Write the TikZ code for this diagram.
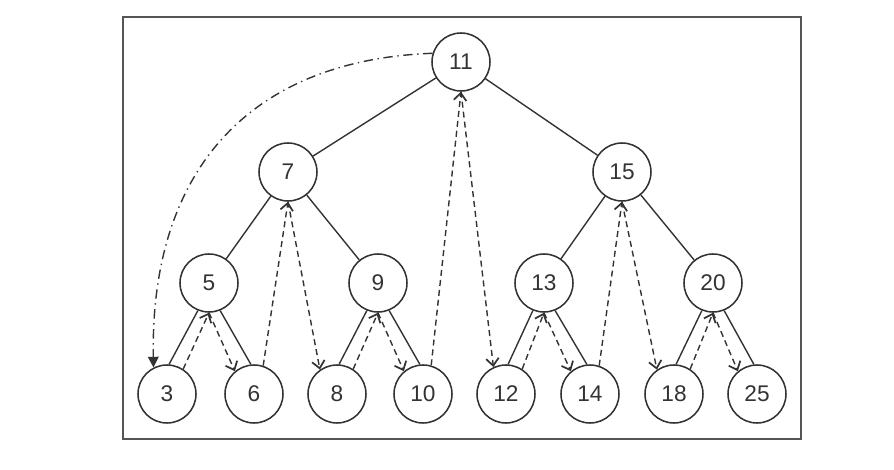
\documentclass[tikz,border=0pt]{standalone}
\usepackage{fontspec}
\setmainfont{Liberation Sans}
\usetikzlibrary{arrows.meta}
\definecolor{ink}{HTML}{333333}
\definecolor{framec}{HTML}{555555}
\begin{document}
\begin{tikzpicture}[x=0.75pt,y=-0.75pt,
  vnode/.style={circle,draw=ink,line width=1.15pt,minimum size=43.5pt,inner sep=0pt,font=\fontsize{17}{19}\selectfont,text=ink},
  edge/.style={draw=ink,line width=1.05pt},
  walk/.style={draw=ink,line width=1.05pt,dash pattern=on 4.5pt off 3pt,-{Straight Barb[length=5.5pt,width=9.5pt,line width=1.3pt]}},
  jump/.style={draw=ink,line width=1.05pt,dash pattern=on 7pt off 3.5pt on 1pt off 3.5pt,-{Triangle[length=8pt,width=8pt]}}]
\useasboundingbox (0,0) rectangle (894,470);
\draw[framec,line width=1.1pt] (123,17) rectangle (801,439);
\node[vnode] (n11) at (461,62) {11};
\node[vnode] (n7) at (288,172) {7};
\node[vnode] (n15) at (622,172) {15};
\node[vnode] (n5) at (209,283) {5};
\node[vnode] (n9) at (378,283) {9};
\node[vnode] (n13) at (544,283) {13};
\node[vnode] (n20) at (713,283) {20};
\node[vnode] (n3) at (167,394) {3};
\node[vnode] (n6) at (254,394) {6};
\node[vnode] (n8) at (337,394) {8};
\node[vnode] (n10) at (423,394) {10};
\node[vnode] (n12) at (506,394) {12};
\node[vnode] (n14) at (590,394) {14};
\node[vnode] (n18) at (674,394) {18};
\node[vnode] (n25) at (757,394) {25};
\foreach \a/\b in {n11/n7,n11/n15,n7/n5,n7/n9,n15/n13,n15/n20}
  \draw[edge] (\a) -- (\b);
\foreach \p/\l/\r in {n5/n3/n6,n9/n8/n10,n13/n12/n14,n20/n18/n25}{
  \draw[edge] (\p.248) -- (\l.86);
  \draw[edge] (\p.292) -- (\r.96);
  \draw[walk] (\l.57) -- (\p.south);
  \draw[walk] (\p.south) -- (\r.130);
}
\draw[walk] (n6.72) -- (n7.south);
\draw[walk] (n7.south) -- (n8.125);
\draw[walk] (n10.74) -- (n11.south);
\draw[walk] (n11.south) -- (n12.115);
\draw[walk] (n14.72) -- (n15.south);
\draw[walk] (n15.south) -- (n18.125);
\draw[jump] (n11.163) .. controls (250,60) and (150,170) .. (n3.117);
\end{tikzpicture}
\end{document}
